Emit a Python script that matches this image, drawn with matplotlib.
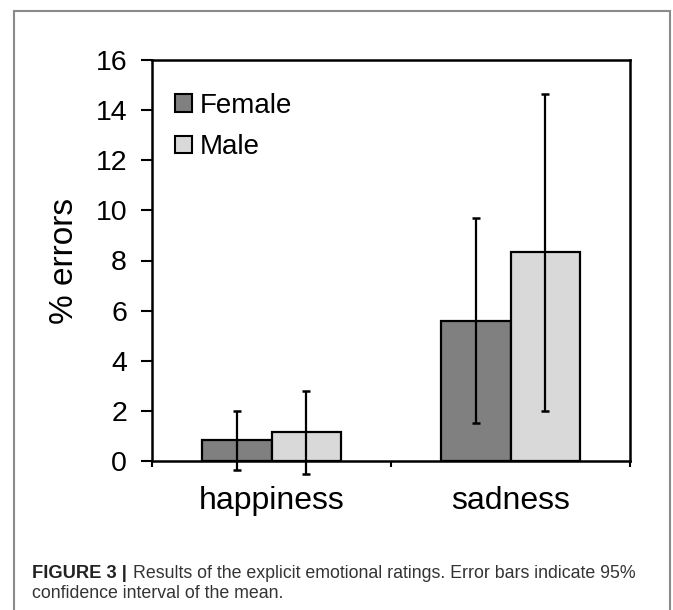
import matplotlib
matplotlib.use("Agg")
import matplotlib.pyplot as plt
import matplotlib.patches as mpatches
import numpy as np

plt.rcParams["font.family"] = ["Liberation Sans", "DejaVu Sans"]

categories = ["happiness", "sadness"]
groups = ["Female", "Male"]
means = {"Female": [0.85, 5.6], "Male": [1.17, 8.35]}
ci_low = {"Female": [-0.35, 1.5], "Male": [-0.53, 2.0]}
ci_high = {"Female": [2.0, 9.7], "Male": [2.8, 14.65]}
colors = {"Female": "#808080", "Male": "#d9d9d9"}
y_ticks = [0, 2, 4, 6, 8, 10, 12, 14, 16]

W, H = 673, 610
fig = plt.figure(figsize=(W / 100, H / 100), dpi=100)
fig.patch.set_facecolor("white")

# outer frame of the figure panel
fig.add_artist(mpatches.Rectangle((14 / W, -0.02), (670 - 14) / W, 1.02 - 11 / H,
                                  transform=fig.transFigure, fill=False,
                                  edgecolor="#8a8a8a", linewidth=1.5))

ax = fig.add_axes([152 / W, 1 - 461 / H, (630 - 152) / W, (461 - 60) / H])

x = np.arange(len(categories))
bw = 0.289
offsets = {"Female": -bw / 2, "Male": bw / 2}
for g in groups:
    xs = x + offsets[g]
    vals = np.array(means[g])
    lo = vals - np.array(ci_low[g])
    hi = np.array(ci_high[g]) - vals
    ax.bar(xs, vals, width=bw, color=colors[g], edgecolor="black", linewidth=1.6,
           label=g, zorder=2)
    ax.errorbar(xs, vals, yerr=[lo, hi], fmt="none", ecolor="black",
                elinewidth=1.6, capsize=3, capthick=1.8, zorder=3, clip_on=False)

ax.set_xlim(-0.5, 1.5)
ax.set_ylim(0, 16)
ax.set_yticks(y_ticks)
ax.set_yticklabels([str(t) for t in y_ticks])
ax.set_xticks(x)
ax.set_xticklabels(categories)
ax.set_xticks([-0.5, 0.5, 1.5], minor=True)
ax.tick_params(axis="x", which="major", length=0, pad=18, labelsize=23)
ax.tick_params(axis="x", which="minor", length=4, width=1.5, direction="out")
ax.tick_params(axis="y", length=8, width=1.5, direction="out", pad=10, labelsize=20.5)
for s in ax.spines.values():
    s.set_linewidth(1.8)
    s.set_color("black")

ax.set_ylabel("% errors", fontsize=24, labelpad=11)

handles = [mpatches.Patch(facecolor=colors[g], edgecolor="black", linewidth=1.5)
           for g in groups]
ax.legend(handles, groups, loc="upper left", frameon=False, fontsize=20,
          bbox_to_anchor=((175 - 152) / 478, (461 - 93) / 401), borderpad=0,
          handlelength=0.6, handleheight=0.6, handletextpad=0.3,
          labelspacing=0.55, borderaxespad=0)

# caption: bold lead-in followed by regular text on the same line
y1 = 1 - 573 / H
lead = fig.text(32 / W, y1, "FIGURE 3 |", fontsize=13.2, fontweight="bold",
                color="#222222", va="center", ha="left")
fig.canvas.draw()
bb = lead.get_window_extent(fig.canvas.get_renderer())
fig.text((bb.x1 + 6) / W, y1,
         "Results of the explicit emotional ratings. Error bars indicate 95%",
         fontsize=12.8, color="#333333", va="center", ha="left")
fig.text(32 / W, 1 - 594 / H, "confidence interval of the mean.",
         fontsize=12.8, color="#333333", va="center", ha="left")

fig.savefig("out.png", dpi=100)
